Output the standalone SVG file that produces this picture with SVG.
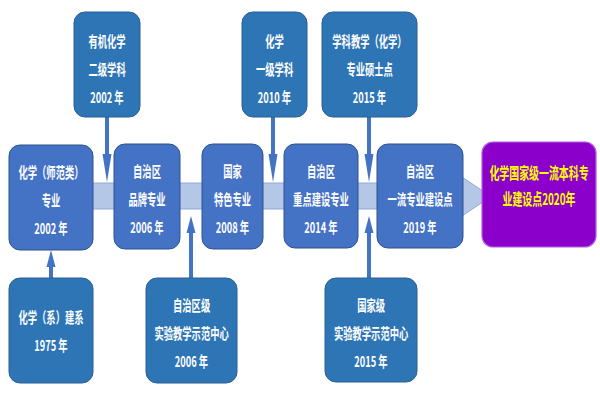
<svg xmlns="http://www.w3.org/2000/svg" width="600" height="400" viewBox="0 0 600 400">
<style>
.side{fill:#2E75B6;stroke:#2A5F94;stroke-width:1}
.main{fill:#4472C4;stroke:#2F528F;stroke-width:1}
.goal{fill:#8C00CC;stroke:#B060E0;stroke-width:1.2}
.band{fill:#B4C7E7;stroke:#8FAADC;stroke-width:1}
.t{font-family:"Noto Sans CJK SC","Liberation Sans",sans-serif;font-size:15px;font-weight:bold;fill:#FFFFFF;text-anchor:middle;dominant-baseline:central;transform-box:fill-box;transform-origin:center;transform:scaleX(0.62)}
.y{fill:#FFFF00;font-size:16px}
.c{stroke:#4472C4;stroke-width:4;fill:none}
</style>
<defs>
<marker id="hl" markerUnits="userSpaceOnUse" markerWidth="30" markerHeight="10" refX="0" refY="4.5" orient="auto" overflow="visible"><path d="M0,0 L28,4.5 L0,9 Z" fill="#4472C4"/></marker>
<marker id="hs" markerUnits="userSpaceOnUse" markerWidth="20" markerHeight="10" refX="0" refY="4.5" orient="auto" overflow="visible"><path d="M0,0 L17,4.5 L0,9 Z" fill="#4472C4"/></marker>
</defs>
<rect width="600" height="400" fill="#FFFFFF"/>
<g id="timeline">
<polygon class="band" points="12,183 462,183 462,177 491,196.5 462,216 462,209 12,209"/>
</g>
<g id="connectors">
<line class="c" x1="107" y1="117" x2="107" y2="154" marker-end="url(#hl)"/>
<line class="c" x1="273" y1="117" x2="273" y2="154" marker-end="url(#hl)"/>
<line class="c" x1="369" y1="117" x2="369" y2="154" marker-end="url(#hl)"/>
<line class="c" x1="51" y1="278" x2="51" y2="267" marker-end="url(#hs)"/>
<line class="c" x1="191" y1="278" x2="191" y2="233" marker-end="url(#hs)"/>
<line class="c" x1="369" y1="278" x2="369" y2="233" marker-end="url(#hs)"/>
</g>
<g id="n-organic">
<rect class="side" x="74" y="12" width="66" height="105" rx="11"/>
<text class="t" x="107" y="40.5">有机化学</text>
<text class="t" x="107" y="68.5">二级学科</text>
<text class="t" x="107" y="96.5">2002 年</text>
</g>
<g id="n-first-level">
<rect class="side" x="242" y="12" width="65" height="105" rx="11"/>
<text class="t" x="274.5" y="40.5">化学</text>
<text class="t" x="274.5" y="68.5">一级学科</text>
<text class="t" x="274.5" y="96.5">2010 年</text>
</g>
<g id="n-master">
<rect class="side" x="322" y="12" width="95" height="105" rx="11"/>
<text class="t" x="369.5" y="40.5">学科教学（化学）</text>
<text class="t" x="369.5" y="68.5">专业硕士点</text>
<text class="t" x="369.5" y="96.5">2015 年</text>
</g>
<g id="n-normal">
<rect class="main" x="9" y="145" width="84" height="105" rx="11"/>
<text class="t" x="51" y="172">化学（师范类）</text>
<text class="t" x="51" y="200">专业</text>
<text class="t" x="51" y="228">2002 年</text>
</g>
<g id="n-brand">
<rect class="main" x="114" y="144" width="66" height="105" rx="11"/>
<text class="t" x="147" y="171">自治区</text>
<text class="t" x="147" y="199">品牌专业</text>
<text class="t" x="147" y="227">2006 年</text>
</g>
<g id="n-feature">
<rect class="main" x="202" y="144" width="61" height="105" rx="11"/>
<text class="t" x="232.5" y="171">国家</text>
<text class="t" x="232.5" y="199">特色专业</text>
<text class="t" x="232.5" y="227">2008 年</text>
</g>
<g id="n-key">
<rect class="main" x="284" y="144" width="74" height="104" rx="11"/>
<text class="t" x="321" y="171">自治区</text>
<text class="t" x="321" y="199">重点建设专业</text>
<text class="t" x="321" y="227">2014 年</text>
</g>
<g id="n-firstclass">
<rect class="main" x="377" y="144" width="86" height="104" rx="11"/>
<text class="t" x="420" y="171">自治区</text>
<text class="t" x="420" y="199">一流专业建设点</text>
<text class="t" x="420" y="227">2019 年</text>
</g>
<g id="n-national">
<rect class="goal" x="482" y="142" width="114" height="105" rx="11"/>
<text class="t y" x="539" y="172">化学国家级一流本科专</text>
<text class="t y" x="539" y="198">业建设点2020年</text>
</g>
<g id="n-dept">
<rect class="side" x="9" y="278" width="84" height="105" rx="11"/>
<text class="t" x="51" y="317">化学（系）建系</text>
<text class="t" x="51" y="345">1975 年</text>
</g>
<g id="n-lab-region">
<rect class="side" x="146" y="278" width="91" height="105" rx="11"/>
<text class="t" x="191.5" y="305">自治区级</text>
<text class="t" x="191.5" y="333">实验教学示范中心</text>
<text class="t" x="191.5" y="361">2006 年</text>
</g>
<g id="n-lab-national">
<rect class="side" x="325" y="278" width="92" height="104" rx="11"/>
<text class="t" x="371" y="305">国家级</text>
<text class="t" x="371" y="333">实验教学示范中心</text>
<text class="t" x="371" y="361">2015 年</text>
</g>
</svg>
